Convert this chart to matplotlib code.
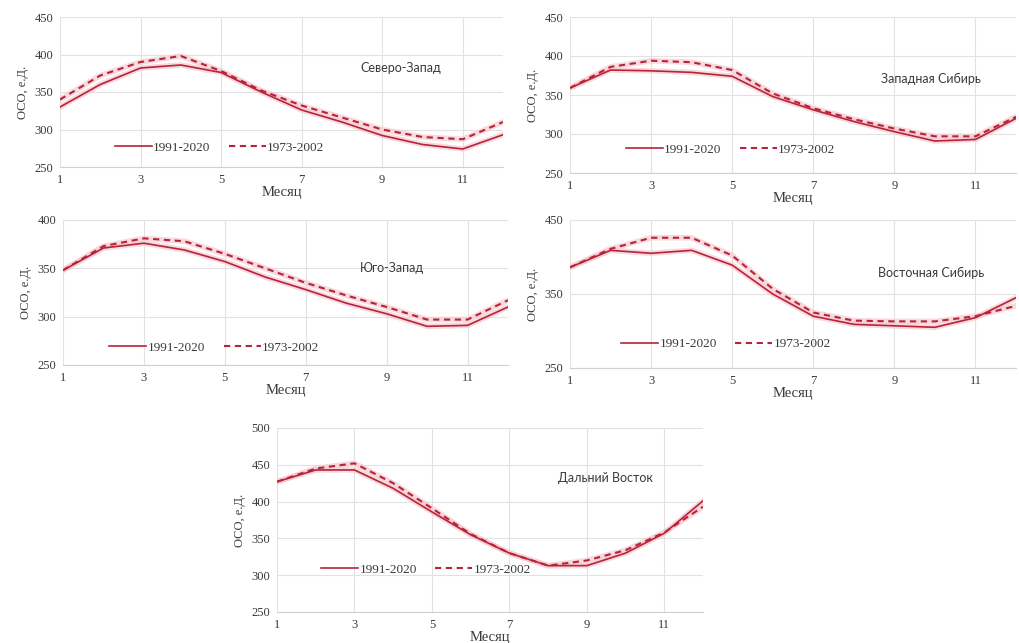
import matplotlib.pyplot as plt
import numpy as np

months = list(range(1, 13))

# monthly mean total ozone, e.D.
nw_new = [330, 360, 382, 386, 376, 350, 326, 310, 292, 280, 274, 293]
nw_old = [340, 372, 390, 398, 378, 352, 332, 316, 300, 290, 287, 310]

ws_new = [359, 382, 381, 379, 374, 348, 331, 316, 303, 291, 293, 320]
ws_old = [359, 386, 394, 392, 382, 352, 333, 319, 307, 297, 297, 322]

sw_new = [348, 371, 376, 369, 357, 341, 328, 314, 303, 290, 291, 310]
sw_old = [348, 373, 381, 378, 365, 350, 335, 322, 310, 297, 297, 317]

es_new = [386, 409, 405, 409, 389, 350, 320, 309, 307, 305, 318, 345]
es_old = [386, 411, 426, 426, 402, 357, 325, 314, 313, 313, 320, 334]

fe_new = [427, 443, 443, 418, 386, 355, 330, 313, 313, 330, 357, 401]
fe_old = [427, 445, 452, 425, 391, 356, 330, 313, 320, 334, 358, 393]

labels = ["1991-2020", "1973-2002"]

W, H = 1020, 643
RED = '#B8233A'
GLOW = '#F6C9CF'
SERIF = 'Liberation Serif'
GREY = '#3A3A3A'


def px(l, t, r, b):
    return [l / W, 1 - b / H, (r - l) / W, (b - t) / H]


def panel(box, new, old, name, ylim, ystep, name_pos, leg_pos):
    ax = fig.add_axes(px(*box))
    for s in ['top', 'right', 'left']:
        ax.spines[s].set_visible(False)
    ax.spines['bottom'].set_color('#D0D0D0')
    ax.grid(True, color='#E2E2E2', linewidth=0.8)
    ax.set_axisbelow(True)
    ax.plot(months, new, color=GLOW, lw=4, alpha=0.7, solid_capstyle='round')
    ax.plot(months, old, color=GLOW, lw=4, alpha=0.7, solid_capstyle='round')
    l1, = ax.plot(months, new, color=RED, lw=1.2, label=labels[0])
    l2, = ax.plot(months, old, color=RED, lw=1.5, ls=(0, (3, 2.2)), label=labels[1])
    ax.set_xlim(1, 12)
    ax.set_ylim(*ylim)
    ax.set_xticks(range(1, 12, 2))
    ax.set_yticks(np.arange(ylim[0], ylim[1] + 1, ystep))
    ax.tick_params(length=0, labelsize=9, labelcolor=GREY, pad=5)
    for t in ax.get_xticklabels() + ax.get_yticklabels():
        t.set_family(SERIF)
    ax.set_xlabel('Месяц', family=SERIF, fontsize=10.5, color=GREY, labelpad=0)
    ax.set_ylabel('ОСО, е.Д.', family=SERIF, fontsize=9, color=GREY, labelpad=4)
    ax.text(name_pos[0], name_pos[1], name, transform=ax.transAxes,
            family='Lato', fontsize=9, color=GREY, ha='center', va='center')
    ax.legend(handles=[l1, l2], loc='center', bbox_to_anchor=leg_pos, ncol=2,
              frameon=False, handlelength=2.8, columnspacing=1.4, handletextpad=0.1,
              prop={'family': SERIF, 'size': 9.5}, labelcolor=GREY)
    return ax


fig = plt.figure(figsize=(W / 100, H / 100), dpi=100)

panel((60, 17, 503, 167), nw_new, nw_old, 'Северо-Запад', (250, 450), 50, (0.77, 0.66), (0.36, 0.13))
panel((570, 17, 1016, 173), ws_new, ws_old, 'Западная Сибирь', (250, 450), 50, (0.81, 0.60), (0.36, 0.15))
panel((63, 220, 508, 365), sw_new, sw_old, 'Юго-Запад', (250, 400), 50, (0.74, 0.67), (0.34, 0.12))
panel((570, 220, 1016, 368), es_new, es_old, 'Восточная Сибирь', (250, 450), 100, (0.81, 0.64), (0.35, 0.16))
panel((277, 428, 703, 612), fe_new, fe_old, 'Дальний Восток', (250, 500), 50, (0.77, 0.73), (0.35, 0.23))

fig.savefig('out.png', dpi=100)
